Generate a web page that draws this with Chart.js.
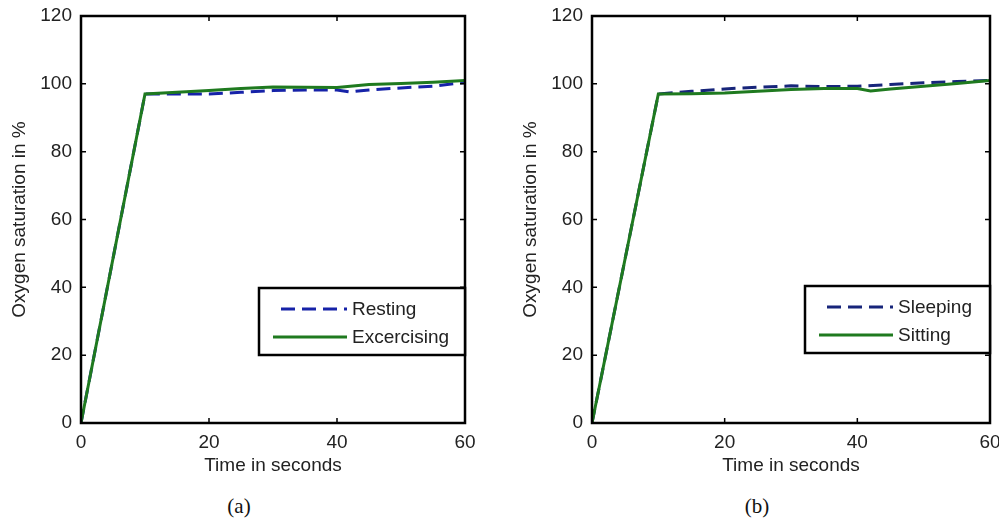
<!DOCTYPE html>
<html>
<head>
<meta charset="utf-8">
<script src="https://cdn.jsdelivr.net/npm/chart.js@4.4.1/dist/chart.umd.min.js"></script>
<style>
  html, body { margin: 0; padding: 0; background: #fff; overflow: hidden; }
  body { width: 999px; height: 521px; position: relative; }
  canvas { position: absolute; top: 0; }
  .legenda { position: absolute; top: 494px; font-family: 'Liberation Serif', 'Times New Roman', serif; font-size: 21px; color: #111; transform: translateX(-50%); }
</style>
</head>
<body>
<canvas id="graficoA" width="500" height="490" style="left:0"></canvas>
<canvas id="graficoB" width="488" height="490" style="left:511px"></canvas>
<div class="legenda" style="left:239px">(a)</div>
<div class="legenda" style="left:757px">(b)</div>
<script>
// valores (tempo em s, saturação em %)
const restingT = [0, 10, 15, 20, 25, 30, 35, 40, 42, 45, 50, 55, 60];
const restingY = [0, 97, 97, 97, 97.5, 98, 98.2, 98.2, 97.6, 98.2, 98.8, 99.3, 100.4];
const exercisingT = [0, 10, 15, 20, 25, 30, 35, 40, 45, 50, 55, 60];
const exercisingY = [0, 97, 97.5, 98, 98.6, 99.1, 99, 98.9, 99.8, 100.1, 100.5, 101];

const sleepingT = [0, 10, 15, 20, 25, 30, 35, 40, 45, 50, 55, 60];
const sleepingY = [0, 97, 97.8, 98.5, 99, 99.4, 99.2, 99.3, 99.8, 100.3, 100.7, 101];
const sittingT = [0, 10, 15, 20, 25, 30, 35, 40, 42, 45, 50, 55, 60];
const sittingY = [0, 97, 97.1, 97.3, 97.8, 98.3, 98.6, 98.6, 97.9, 98.5, 99.3, 100.1, 101];

const xTicks = [0, 20, 40, 60];
const yTicks = [0, 20, 40, 60, 80, 100, 120];

const fonte = "'Liberation Sans', Arial, sans-serif";
const pontos = (ts, ys) => ts.map((t, i) => ({ x: t, y: ys[i] }));

// moldura preta com marcas para dentro + caixa de legenda
const moldura = {
    id: 'moldura',
    afterDatasetsDraw(chart, args, opts) {
        const { ctx, chartArea: a, scales } = chart;
        ctx.save();
        ctx.strokeStyle = '#000';
        ctx.lineWidth = 1.5;
        const tl = 5;
        ctx.beginPath();
        xTicks.slice(1, -1).forEach(v => {
            const px = scales.x.getPixelForValue(v);
            ctx.moveTo(px, a.bottom); ctx.lineTo(px, a.bottom - tl);
            ctx.moveTo(px, a.top); ctx.lineTo(px, a.top + tl);
        });
        yTicks.slice(1, -1).forEach(v => {
            const py = scales.y.getPixelForValue(v);
            ctx.moveTo(a.left, py); ctx.lineTo(a.left + tl, py);
            ctx.moveTo(a.right, py); ctx.lineTo(a.right - tl, py);
        });
        ctx.stroke();
        ctx.lineWidth = 2.5;
        ctx.strokeRect(a.left, a.top, a.right - a.left, a.bottom - a.top);

        // legenda
        const w = opts.largura, h = 67;
        const bx = a.right - w, by = opts.topo;
        ctx.fillStyle = '#fff';
        ctx.fillRect(bx, by, w, h);
        ctx.lineWidth = 2.5;
        ctx.strokeRect(bx, by, w, h);
        chart.data.datasets.forEach((ds, i) => {
            const y = by + 21 + i * 28;
            ctx.strokeStyle = ds.borderColor;
            ctx.lineWidth = ds.borderWidth;
            ctx.setLineDash(ds.borderDash || []);
            ctx.beginPath();
            ctx.moveTo(bx + (ds.borderDash ? 22 : 14), y);
            ctx.lineTo(bx + 88, y);
            ctx.stroke();
            ctx.setLineDash([]);
            ctx.fillStyle = '#222';
            ctx.font = '19px ' + fonte;
            ctx.textBaseline = 'middle';
            ctx.fillText(ds.label, bx + 93, y + 1);
        });
        ctx.restore();
    }
};

function criarGrafico(id, series, padRight, legLargura, legTopo) {
    const ctx = document.getElementById(id).getContext('2d');
    return new Chart(ctx, {
        type: 'line',
        data: {
            datasets: series.map(s => ({
                label: s.label,
                data: s.data,
                borderColor: s.cor,
                borderWidth: 3,
                borderDash: s.dash,
                pointRadius: 0,
                tension: 0,
                fill: false,
                order: s.order
            }))
        },
        options: {
            responsive: false,
            animation: false,
            layout: { padding: { left: 0, right: padRight, top: 16, bottom: 0 } },
            plugins: {
                legend: { display: false },
                tooltip: { enabled: false },
                moldura: { largura: legLargura, topo: legTopo }
            },
            scales: {
                x: {
                    type: 'linear', min: 0, max: 60,
                    afterBuildTicks: s => { s.ticks = xTicks.map(v => ({ value: v })); },
                    ticks: { color: '#222', padding: 8, maxRotation: 0, font: { family: fonte, size: 19 } },
                    grid: { display: false, drawTicks: false },
                    border: { display: false },
                    title: { display: true, text: 'Time in seconds', color: '#222', padding: { top: 0, bottom: 13 }, font: { family: fonte, size: 19 } },
                    afterFit: s => { s.height = 67; s.paddingLeft = 0; s.paddingRight = 0; }
                },
                y: {
                    min: 0, max: 120,
                    afterBuildTicks: s => { s.ticks = yTicks.map(v => ({ value: v })); },
                    ticks: { color: '#222', padding: 9, font: { family: fonte, size: 19 } },
                    grid: { display: false, drawTicks: false },
                    border: { display: false },
                    title: { display: true, text: 'Oxygen saturation in %', color: '#222', padding: { top: 8, bottom: 0 }, font: { family: fonte, size: 19 } },
                    afterFit: s => { s.width = 81; s.paddingTop = 0; s.paddingBottom = 0; }
                }
            }
        },
        plugins: [moldura]
    });
}

criarGrafico('graficoA', [
    { label: 'Resting', data: pontos(restingT, restingY), cor: '#1622a8', dash: [14, 7], order: 1 },
    { label: 'Excercising', data: pontos(exercisingT, exercisingY), cor: '#1f7a1f', order: 0 }
], 35, 206, 288);

criarGrafico('graficoB', [
    { label: 'Sleeping', data: pontos(sleepingT, sleepingY), cor: '#17257a', dash: [14, 7], order: 1 },
    { label: 'Sitting', data: pontos(sittingT, sittingY), cor: '#1f7a1f', order: 0 }
], 9, 185, 286);
</script>
</body>
</html>
